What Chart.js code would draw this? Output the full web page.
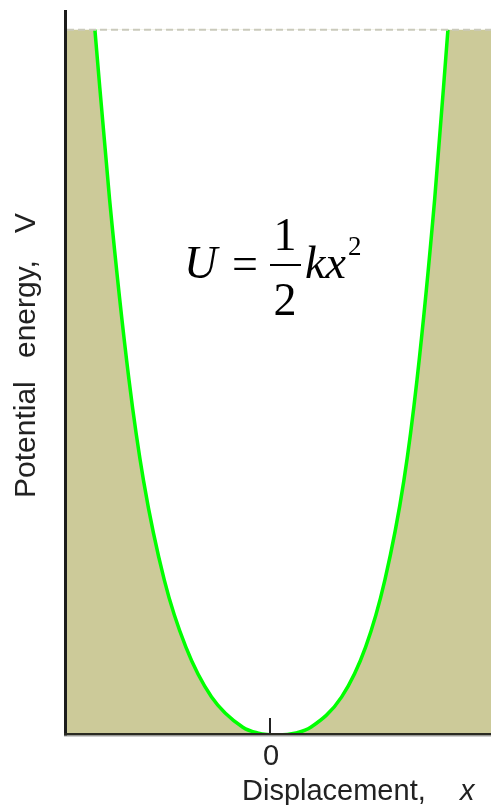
<!DOCTYPE html>
<html>
<head>
<meta charset="utf-8">
<script src="https://cdn.jsdelivr.net/npm/chart.js@4/dist/chart.umd.min.js"></script>
<style>
  html, body { margin: 0; padding: 0; background: #fff; }
  #wrap { width: 491px; height: 805px; position: relative; }
</style>
</head>
<body>
<div id="wrap"><canvas id="energyChart"></canvas></div>
<script>
// displacement (x) and potential energy (U)
const displacement = [-0.992, -0.909, -0.799, -0.716, -0.599, -0.477, -0.331, -0.154, -0.071, 0.045,
                      0.148, 0.231, 0.406, 0.542, 0.651, 0.758, 0.833, 0.933, 1.008];
const energy = [1.0, 0.76, 0.504, 0.36, 0.22, 0.125, 0.054, 0.011, 0.003, 0,
                0.003, 0.011, 0.054, 0.125, 0.22, 0.36, 0.504, 0.76, 1.0];

// box edges (x range and top energy level)
const xRange = [-1.15, 1.252];
const topLevel = 1.0;
const xTicks = [0];
const xTickLabels = ['0'];

const khaki = 'rgb(204, 202, 153)';

const curvePts = displacement.map((x, i) => ({ x: x, y: energy[i] }));
const levelPts = xRange.map(x => ({ x: x, y: topLevel }));

// 축, 눈금, 제목, 수식 그리기
const decorPlugin = {
    id: 'decor',
    afterDraw(chart) {
        const ctx = chart.ctx;
        const area = chart.chartArea;
        const xs = chart.scales.x;
        ctx.save();

        // left axis
        ctx.fillStyle = '#1c1c1c';
        ctx.fillRect(area.left - 3, 10, 3, area.bottom - 10 + 1);

        // bottom axis
        ctx.fillStyle = '#2a2a22';
        ctx.fillRect(area.left - 3, area.bottom - 2, area.right - area.left + 3, 2.5);
        ctx.fillStyle = '#a0a0a0';
        ctx.fillRect(area.left - 3, area.bottom + 0.5, area.right - area.left + 3, 1);

        // ticks
        ctx.fillStyle = '#222';
        ctx.font = '29px "Liberation Sans", Arial, sans-serif';
        ctx.textAlign = 'center';
        ctx.textBaseline = 'alphabetic';
        xTicks.forEach((v, i) => {
            const px = xs.getPixelForValue(v);
            ctx.fillRect(px - 1, area.bottom - 17, 2, 15);
            ctx.fillText(xTickLabels[i], px + 1, 765);
        });

        // x title
        ctx.textAlign = 'left';
        ctx.fillText('Displacement,', 242, 800);
        ctx.font = 'italic 29px "Liberation Sans", Arial, sans-serif';
        ctx.fillText('x', 460, 800);

        // y title
        ctx.save();
        ctx.translate(35, 498);
        ctx.rotate(-Math.PI / 2);
        ctx.font = '30px "Liberation Sans", Arial, sans-serif';
        ctx.textAlign = 'left';
        ctx.fillText('Potential', 0, 0);
        ctx.fillText('energy,', 140, 0);
        ctx.fillText('V', 265, 0);
        ctx.restore();

        // equation U = 1/2 k x^2
        ctx.fillStyle = '#000';
        const serif = '"Liberation Serif", "Times New Roman", serif';
        ctx.textAlign = 'left';
        ctx.font = 'italic 46px ' + serif;
        ctx.fillText('U', 184, 278);
        ctx.font = '46px ' + serif;
        ctx.textAlign = 'center';
        ctx.fillText('=', 245, 279);
        ctx.fillText('1', 285, 250);
        ctx.fillText('2', 285, 315);
        ctx.fillRect(270, 264, 31, 2);
        ctx.textAlign = 'left';
        ctx.font = 'italic 46px ' + serif;
        ctx.fillText('kx', 305, 278);
        ctx.font = '27px ' + serif;
        ctx.fillText('2', 348, 255);

        ctx.restore();
    }
};

const chart = new Chart(document.getElementById('energyChart'), {
    type: 'line',
    data: {
        datasets: [
            {
                // dashed top level
                data: levelPts,
                borderColor: '#cacabc',
                borderWidth: 2,
                borderDash: [7, 4],
                pointRadius: 0,
                fill: false
            },
            {
                // potential curve, inside is white
                data: curvePts,
                borderColor: '#00ff00',
                borderWidth: 3.5,
                cubicInterpolationMode: 'monotone',
                pointRadius: 0,
                fill: { target: { value: topLevel } },
                backgroundColor: '#ffffff'
            },
            {
                // khaki box below the top level
                data: levelPts,
                borderWidth: 0,
                borderColor: 'rgba(0,0,0,0)',
                pointRadius: 0,
                fill: 'origin',
                backgroundColor: khaki
            }
        ]
    },
    options: {
        responsive: true,
        maintainAspectRatio: false,
        animation: false,
        layout: { padding: { left: 67, right: 0, top: 10, bottom: 70 } },
        plugins: {
            legend: { display: false },
            tooltip: { enabled: false }
        },
        scales: {
            x: { type: 'linear', display: false, min: xRange[0], max: xRange[1] },
            y: { type: 'linear', display: false, min: 0, max: 1.028 }
        }
    },
    plugins: [decorPlugin]
});
</script>
</body>
</html>
